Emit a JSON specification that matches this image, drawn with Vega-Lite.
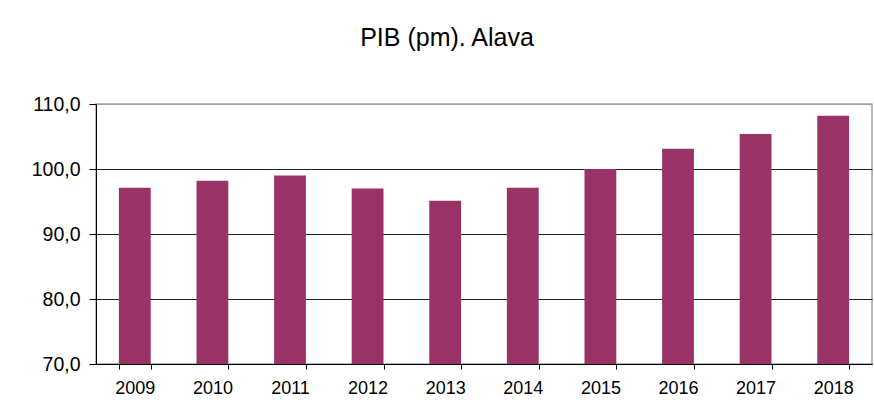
{
  "$schema": "https://vega.github.io/schema/vega-lite/v6.json",
  "width": 776,
  "height": 260,
  "autosize": {"type": "none"},
  "padding": {"left": 96, "top": 104, "right": 2, "bottom": 55},
  "background": "white",
  "title": {
    "text": "PIB (pm). Alava",
    "font": "Liberation Sans",
    "fontSize": 25,
    "fontWeight": "normal",
    "color": "#000000",
    "anchor": "middle",
    "dx": -37,
    "baseline": "alphabetic",
    "offset": 23
  },
  "data": {
    "values": [
      {"year": "2009", "value": 97.1},
      {"year": "2010", "value": 98.2},
      {"year": "2011", "value": 99.0},
      {"year": "2012", "value": 97.0},
      {"year": "2013", "value": 95.1},
      {"year": "2014", "value": 97.1},
      {"year": "2015", "value": 100.0},
      {"year": "2016", "value": 103.1},
      {"year": "2017", "value": 105.4},
      {"year": "2018", "value": 108.2}
    ]
  },
  "mark": {"type": "bar", "color": "#993366", "clip": true},
  "encoding": {
    "x": {
      "field": "year",
      "type": "ordinal",
      "scale": {"paddingInner": 0.59, "paddingOuter": 0.295},
      "axis": {
        "title": null,
        "labelAngle": 0,
        "labelFont": "Liberation Sans",
        "labelFontSize": 18,
        "labelColor": "#000000",
        "labelPadding": 10,
        "tickBand": "extent",
        "tickSize": 5,
        "tickColor": "#000000",
        "domainColor": "#000000",
        "grid": false
      }
    },
    "y": {
      "field": "value",
      "type": "quantitative",
      "scale": {"domain": [70, 110], "zero": false, "nice": false},
      "axis": {
        "title": null,
        "values": [70, 80, 90, 100, 110],
        "labelExpr": "replace(format(datum.value, '.1f'), '.', ',')",
        "labelFont": "Liberation Sans",
        "labelFontSize": 19.5,
        "labelColor": "#000000",
        "labelPadding": 9,
        "tickSize": 7,
        "tickColor": "#000000",
        "domainColor": "#000000",
        "grid": true,
        "gridColor": {"condition": {"test": "datum.value == 110", "value": "#a0a0a0"}, "value": "#222222"},
        "gridOpacity": 1
      }
    }
  },
  "config": {
    "view": {"stroke": "#a0a0a0", "strokeWidth": 1.5}
  }
}
